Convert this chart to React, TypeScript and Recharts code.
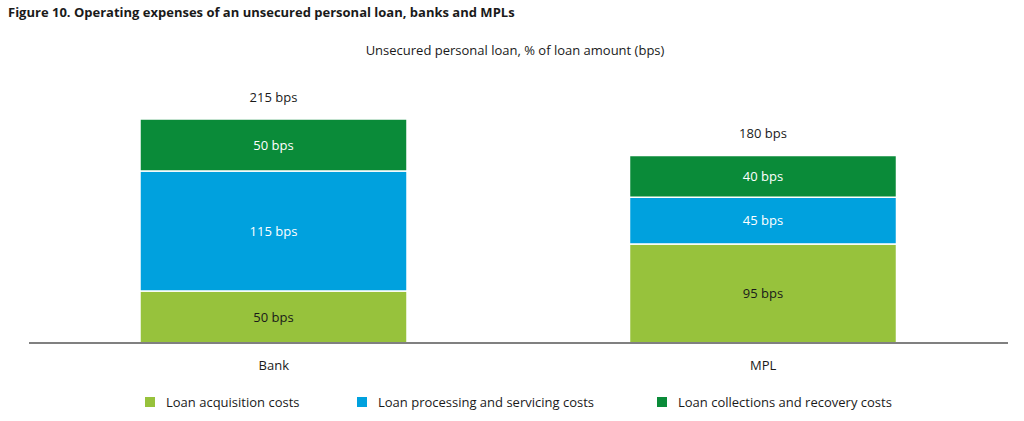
import { BarChart, Bar, XAxis, YAxis, LabelList } from 'recharts'

// Operating expenses of an unsecured personal loan (bps)
const categories = ['Bank', 'MPL']
const acquisition = [50, 95]
const processing = [115, 45]
const collections = [50, 40]

const seriesNames = [
  'Loan acquisition costs',
  'Loan processing and servicing costs',
  'Loan collections and recovery costs',
]
const seriesColors = ['#97c23c', '#00a1de', '#0a8b39']

const FONT = '"Open Sans", "Noto Sans", sans-serif'

const data = categories.map((name, i) => ({
  name,
  acquisition: acquisition[i],
  processing: processing[i],
  collections: collections[i],
  total: acquisition[i] + processing[i] + collections[i],
}))

const bps = (v: number) => `${v} bps`

function TotalLabel(props: any) {
  const { x, y, width, index } = props
  return (
    <text
      x={x + width / 2}
      y={y - 17}
      textAnchor="middle"
      fill="#1a1a1a"
      fontSize={13}
      fontFamily={FONT}
    >
      {bps(data[index].total)}
    </text>
  )
}

const legendLeft = [145, 357, 657]

export default function App() {
  return (
    <div
      style={{
        position: 'absolute',
        left: 0,
        top: 0,
        width: 1024,
        height: 421,
        background: '#fff',
        fontFamily: FONT,
        color: '#1a1a1a',
      }}
    >
      <div
        style={{
          position: 'absolute',
          left: 8,
          top: 3,
          fontSize: 13,
          fontWeight: 700,
          lineHeight: '18px',
          whiteSpace: 'nowrap',
        }}
      >
        Figure 10. Operating expenses of an unsecured personal loan, banks and MPLs
      </div>
      <div
        style={{
          position: 'absolute',
          left: 0,
          width: 1030,
          top: 41,
          fontSize: 13,
          lineHeight: '18px',
          textAlign: 'center',
          whiteSpace: 'nowrap',
        }}
      >
        Unsecured personal loan, % of loan amount (bps)
      </div>

      <div style={{ position: 'absolute', left: 0, top: 0 }}>
        <BarChart
          width={1024}
          height={421}
          data={data}
          margin={{ top: 119, right: 16, bottom: 48, left: 29 }}
          barSize={267}
        >
          <XAxis
            dataKey="name"
            height={30}
            tickLine={false}
            tickMargin={12}
            axisLine={{ stroke: '#808080', strokeWidth: 2 }}
            tick={{ fill: '#1a1a1a', fontSize: 13, fontFamily: FONT }}
          />
          <YAxis hide domain={[0, 215]} />
          <Bar
            dataKey="acquisition"
            stackId="a"
            fill={seriesColors[0]}
            stroke="#ffffff"
            strokeWidth={1.5}
            isAnimationActive={false}
          >
            <LabelList
              dataKey="acquisition"
              position="center"
              formatter={(v: any) => bps(v)}
              fill="#1a1a1a"
              fontSize={13}
              fontFamily={FONT}
            />
          </Bar>
          <Bar
            dataKey="processing"
            stackId="a"
            fill={seriesColors[1]}
            stroke="#ffffff"
            strokeWidth={1.5}
            isAnimationActive={false}
          >
            <LabelList
              dataKey="processing"
              position="center"
              formatter={(v: any) => bps(v)}
              fill="#ffffff"
              fontSize={13}
              fontFamily={FONT}
            />
          </Bar>
          <Bar
            dataKey="collections"
            stackId="a"
            fill={seriesColors[2]}
            stroke="#ffffff"
            strokeWidth={1.5}
            isAnimationActive={false}
          >
            <LabelList
              dataKey="collections"
              position="center"
              formatter={(v: any) => bps(v)}
              fill="#ffffff"
              fontSize={13}
              fontFamily={FONT}
            />
            <LabelList dataKey="total" content={<TotalLabel />} />
          </Bar>
        </BarChart>
      </div>

      {seriesNames.map((name, i) => (
        <div
          key={name}
          style={{
            position: 'absolute',
            left: legendLeft[i],
            top: 393,
            height: 18,
            display: 'flex',
            alignItems: 'center',
            fontSize: 13,
            whiteSpace: 'nowrap',
          }}
        >
          <span
            style={{
              width: 10,
              height: 10,
              background: seriesColors[i],
              marginRight: 11,
              display: 'inline-block',
            }}
          />
          {name}
        </div>
      ))}
    </div>
  )
}
